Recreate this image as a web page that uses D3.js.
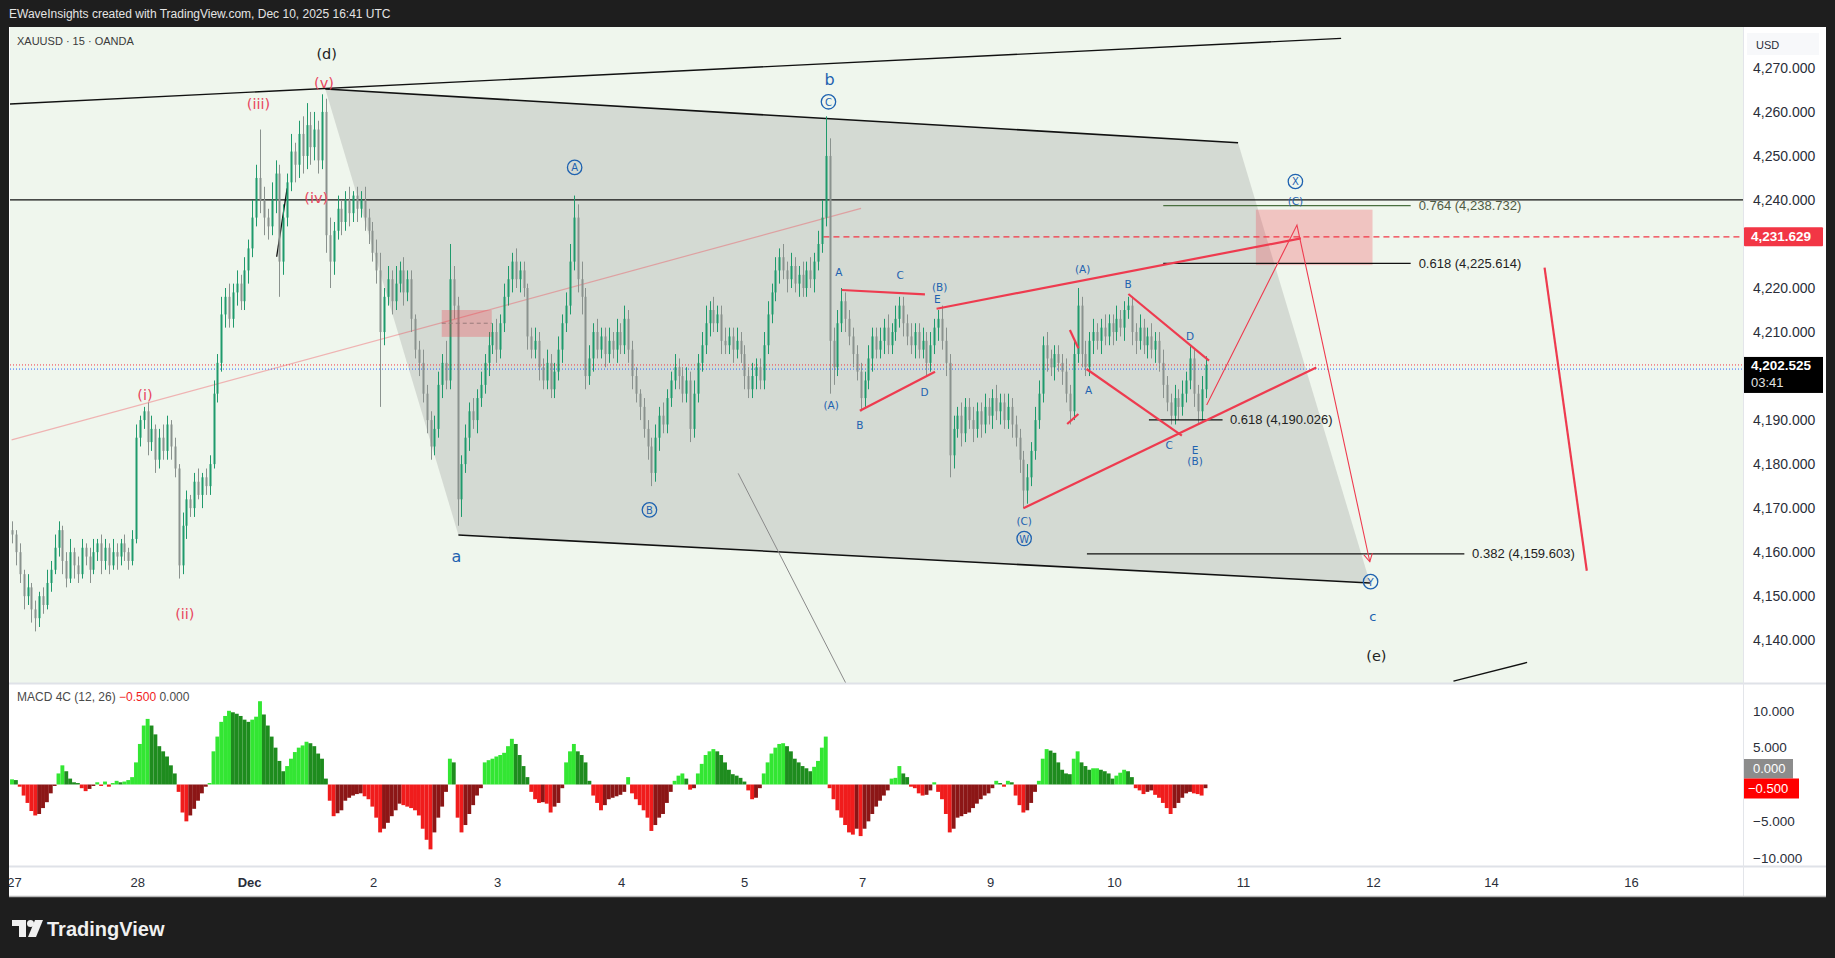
<!DOCTYPE html>
<html><head><meta charset="utf-8">
<script src="https://cdnjs.cloudflare.com/ajax/libs/d3/7.8.5/d3.min.js"></script>
<style>
html,body{margin:0;padding:0;background:#1e1e1e;overflow:hidden}
svg{display:block}
text{font-family:"Liberation Sans",Arial,sans-serif}
</style></head><body>
<svg id="c" width="1835" height="958"></svg>
<script>
// ---------------- DATA ----------------
const firstOpen = 4165;
const closes = [
4164,4160,4155,4150,4152,4147,4145,4150,4148,4153,
4156,4161,4165,4158,4154,4160,4157,4155,4161,4159,
4156,4160,4162,4158,4161,4157,4160,4159,4162,4160,
4158,4163,4186,4190,4192,4185,4188,4181,4186,4183,
4189,4184,4179,4157,4166,4172,4170,4176,4173,4177,
4175,4180,4196,4203,4214,4218,4213,4219,4221,4217,
4224,4229,4236,4245,4240,4236,4234,4240,4246,4226,
4236,4244,4251,4248,4255,4250,4257,4252,4256,4249,
4260,4232,4226,4233,4238,4235,4240,4237,4241,4238,
4240,4236,4233,4228,4224,4210,4218,4222,4217,4221,
4224,4219,4222,4213,4206,4203,4196,4190,4184,4188,
4198,4203,4199,4222,4216,4172,4180,4186,4192,4190,
4195,4198,4203,4207,4210,4206,4212,4218,4222,4226,
4222,4224,4220,4209,4206,4208,4202,4199,4203,4197,
4201,4206,4212,4216,4226,4236,4222,4218,4200,4204,
4210,4206,4209,4205,4208,4206,4210,4207,4213,4206,
4200,4196,4193,4188,4184,4178,4186,4191,4189,4195,
4199,4202,4200,4196,4199,4188,4196,4203,4207,4212,
4215,4212,4214,4208,4207,4209,4206,4208,4205,4200,
4197,4200,4202,4199,4207,4214,4219,4224,4227,4224,
4222,4225,4221,4223,4220,4224,4222,4226,4230,4236,
4250,4208,4202,4212,4217,4213,4209,4205,4201,4195,
4199,4204,4209,4206,4208,4211,4207,4210,4213,4216,
4212,4209,4207,4210,4206,4208,4203,4207,4211,4213,
4208,4203,4182,4188,4191,4187,4193,4190,4188,4192,
4189,4193,4191,4195,4192,4194,4190,4193,4189,4186,
4181,4174,4177,4183,4190,4196,4207,4204,4202,4205,
4203,4201,4196,4192,4205,4216,4205,4202,4208,4210,
4208,4211,4209,4212,4210,4213,4211,4215,4216,4210,
4208,4211,4207,4209,4206,4208,4203,4198,4194,4191,
4195,4193,4196,4199,4204,4196,4192,4197,4202.5];
const upWick = [
2,1,2,1,3,1,2,1,2,3, 2,3,2,1,2,3,1,2,2,1, 2,3,1,2,2,1,3,2,1,2, 1,2,3,1,1,2,3,1,2,3,
2,1,2,1,3,2,1,2,3,1, 2,2,3,2,4,2,3,2,3,2, 3,2,4,3,11,3,2,4,3,2, 3,2,4,2,3,4,5,3,4,2,
4,3,4,2,3,2,2,3,1,2, 2,3,2,2,3,4,2,3,2,4, 2,3,2,2,1,2,3,2,2,3, 3,2,5,8,3,2,2,3,2,3,
2,3,2,3,2,3,2,3,3,2, 3,2,2,1,2,3,2,2,3,2, 2,3,2,3,4,5,3,4,2,3, 2,3,2,2,3,2,3,2,3,2,
2,2,1,2,2,2,3,2,3,2, 2,3,2,2,3,2,3,2,3,4, 2,3,2,2,3,2,2,3,2,2, 2,3,2,2,3,3,2,3,2,3,
2,3,2,2,3,2,3,2,3,4, 9,4,3,3,3,2,2,2,2,2, 2,3,2,2,3,2,3,2,3,2, 2,2,3,2,2,3,2,3,2,2,
3,3,2,3,2,3,2,2,3,2, 2,3,2,2,3,2,2,3,2,2, 2,2,3,2,3,3,2,3,2,2, 2,2,3,2,3,4,2,3,2,3,
2,2,3,2,2,3,2,2,2,2, 2,3,2,2,3,2,2,3,2,2, 3,2,3,2,3,2,2,3,2];
const lowWick = [
2,3,2,3,2,3,3,2,2,1, 2,1,2,3,2,1,3,2,1,2, 3,1,2,3,2,2,1,3,2,2, 2,1,1,2,2,3,2,3,2,2,
2,3,2,3,2,3,2,2,1,3, 2,2,1,2,2,3,2,2,3,2, 2,3,2,2,3,4,3,2,3,8, 3,2,2,4,3,4,3,4,3,3,
2,4,6,3,2,3,2,3,2,3, 2,3,3,2,3,17,3,2,3,2, 2,3,2,3,2,3,2,3,3,2, 2,3,2,2,3,6,4,2,3,2,
3,2,2,3,2,3,2,2,2,3, 2,3,2,3,2,2,3,2,2,2, 2,2,3,2,2,2,3,4,3,2, 3,2,2,3,2,2,3,2,2,3,
3,2,3,2,3,3,2,3,2,2, 2,2,3,2,2,3,2,2,2,2, 3,2,2,3,2,2,3,2,2,3, 2,2,3,2,2,2,2,2,3,2,
3,2,2,3,2,2,2,3,2,2, 2,12,4,2,2,3,2,3,2,3, 2,2,3,2,2,3,2,2,2,2, 3,2,2,3,2,2,3,2,2,3,
2,3,5,3,2,3,2,2,3,2, 3,2,2,3,2,3,2,2,3,2, 3,4,3,2,2,2,2,3,2,3, 2,3,2,3,2,2,3,2,2,3,
2,3,2,2,3,2,2,3,2,3, 3,2,2,3,2,3,2,3,2,2, 2,3,2,2,2,3,3,2,2];
const macd = [
0.7,0.6,-0.3,-1.5,-2.5,-3.6,-4.2,-4.0,-3.2,-2.4,
-1.2,-0.2,1.5,2.6,1.8,0.8,0.3,0.2,-0.5,-0.9,
-0.6,-0.2,0.3,-0.2,0.4,-0.3,0.2,0.5,0.3,0.4,
0.6,1.0,3.0,5.5,8.0,8.9,8.0,6.8,5.2,4.5,
3.8,2.6,1.5,-1.0,-3.8,-5.0,-4.2,-3.3,-2.2,-1.2,
-0.3,0.2,4.5,6.5,8.5,9.3,10.0,9.8,9.6,9.3,
8.8,8.5,8.8,9.2,11.3,9.5,8.0,6.5,5.0,3.2,
1.8,2.5,3.5,4.4,5.0,5.3,5.8,5.6,5.2,4.2,
3.5,0.8,-2.2,-4.3,-3.9,-3.5,-2.2,-1.8,-1.5,-1.3,
-1.2,-1.6,-2.0,-3.0,-4.5,-6.5,-6.0,-5.2,-4.3,-3.5,
-2.6,-2.8,-3.0,-3.2,-3.5,-4.2,-6.0,-7.5,-8.8,-6.5,
-4.5,-3.0,-1.0,3.5,3.0,-4.5,-6.5,-5.5,-4.0,-2.8,
-1.5,-0.5,3.0,3.3,3.5,3.8,4.0,4.3,5.2,6.2,
5.5,4.0,2.5,1.0,-1.0,-2.0,-2.5,-2.4,-2.6,-3.8,
-3.0,-2.5,-0.5,3.0,4.5,5.5,4.5,4.0,3.0,0.5,
-1.5,-2.5,-3.5,-2.8,-2.0,-1.8,-1.6,-1.4,-1.0,1.0,
-1.2,-2.0,-2.8,-3.5,-4.5,-6.3,-5.5,-4.5,-4.0,-2.5,
-1.0,0.5,1.2,1.5,0.8,-0.7,-0.5,1.5,2.8,4.0,
4.5,4.8,4.5,4.0,3.0,2.0,1.4,1.2,0.9,0.4,
-0.8,-2.0,-1.8,-0.5,1.5,3.0,4.2,5.0,5.5,5.6,
5.2,4.5,3.5,3.0,2.5,2.2,1.8,2.4,3.2,5.0,
6.5,-0.5,-2.0,-3.5,-4.5,-5.5,-6.5,-6.8,-6.0,-7.0,
-6.0,-5.0,-4.0,-3.0,-2.2,-1.5,-0.8,0.8,0.9,2.5,
1.5,1.0,-0.3,-0.5,-1.2,-1.5,-1.4,-0.8,0.3,-1.0,
-2.0,-4.0,-6.5,-6.0,-4.5,-4.3,-4.0,-3.8,-3.2,-2.6,
-2.0,-1.5,-1.2,-0.5,0.5,0.2,-0.3,0.5,0.3,-1.5,
-2.8,-3.8,-3.5,-2.5,-1.0,0.5,3.5,4.8,4.6,4.3,
3.0,2.0,1.5,1.4,3.5,4.5,3.0,2.5,2.0,2.2,
2.2,2.0,1.8,1.5,0.8,1.2,1.6,2.0,1.8,1.0,
-0.5,-0.8,-1.3,-1.0,-0.8,-1.4,-1.8,-2.5,-3.2,-4.0,
-3.2,-2.5,-1.8,-1.2,-1.0,-1.2,-1.3,-1.5,-0.5];

const timeTickLabels = ["27","28","Dec","2","3","4","5","7","9","10","11","12","14","16"];
const timeTickIndex  = [0.5,32.3,61.2,93.2,125.2,157.2,188.9,219.4,252.4,284.4,317.7,351.2,381.7,417.8];
const priceTicks = [4270,4260,4250,4240,4220,4210,4190,4180,4170,4160,4150,4140];
const macdTicks = [10,5,-5,-10];
const lastPrice = 4202.525;
const prevClose = 4201.7;
const targetLevel = 4231.629;
const macdLast = -0.5, macdSignal = 0.0;

// drawings (bar index, price)
const upperTrend = [[-0.8,4261.8],[343,4276.7]];
const channelPoly = [[80.85,4265.2],[316.4,4253.0],[350.45,4153.0],[115.2,4163.9]];
const horizLevel = 4240;
const pinkTrend = [[-0.1,4185.5],[219.1,4238.1]];
const smallZone = [[110.9,4215.0],[123.8,4208.9]];
const smallZoneMid = 4212.0;
const targetZone = [[321.0,4237.8],[351.1,4225.2]];
const targetLineStart = 209.4;
const fibLevels = [
  {label:"0.764 (4,238.732)", value:4238.732, from:297.1, to:360.95, text:363.0, green:true},
  {label:"0.618 (4,225.614)", value:4225.614, from:297.1, to:360.95, text:363.0},
  {label:"0.618 (4,190.026)", value:4190.026, from:293.4, to:312.4, text:314.3},
  {label:"0.382 (4,159.603)", value:4159.603, from:277.4, to:374.8, text:376.8}
];
const redLines = [
  [[214.1,4219.55],[235.6,4218.57]],
  [[218.8,4192.13],[238.2,4200.99]],
  [[238.6,4215.3],[332.6,4231.29]],
  [[261.0,4169.95],[336.6,4201.96]],
  [[273.0,4210.46],[275.2,4206.3]],
  [[272.3,4189.11],[275.2,4191.38]],
  [[277.3,4201.6],[301.9,4186.45]],
  [[288.1,4218.64],[308.9,4203.49]],
  [[395.5,4224.63],[406.4,4155.78]]
];
const projection = [[308.3,4193.42],[331.6,4234.31],[350.4,4157.82]];
const blackShort = [[68.3,4227.1],[71.0,4242.65]];
const grayDiag = [[187.4,4177.9],[215.2,4130.2]];
const blackBottom = [[372.0,4130.7],[391.0,4134.95]];
const waveLabels = [
  ["(d)",81.2,4273.2,"black"],["(v)",80.5,4266.6,"red"],["(iii)",63.6,4261.8,"red"],
  ["(iv)",78.5,4240.4,"red"],["(i)",34.3,4195.6,"red"],["(ii)",44.6,4145.9,"red"],
  ["b",211.0,4267.3,"blue"],["a",114.7,4158.9,"blue"],["c",351.2,4145.3,"blueMid"],
  ["(e)",352.1,4136.5,"black"],
  ["A",213.4,4223.7,"small"],["C",229.2,4223.0,"small"],["(B)",239.4,4220.3,"small"],
  ["E",238.8,4217.4,"small"],["(A)",211.4,4193.4,"small"],["B",218.8,4188.9,"small"],
  ["D",235.5,4196.4,"small"],["(C)",261.2,4167.1,"small"],["(A)",276.3,4224.3,"small"],
  ["B",288.0,4220.8,"small"],["A",277.8,4196.9,"small"],["D",304.0,4209.1,"small"],
  ["C",298.6,4184.4,"small"],["E",305.3,4183.3,"small"],["(B)",305.3,4180.7,"small"],
  ["(C)",331.2,4239.7,"small"]
];
const circledLabels = [["C",210.7,4262.3],["A",145.2,4247.4],["B",164.5,4169.6],
  ["W",261.2,4163.1],["X",331.2,4244.2],["Y",350.6,4153.3]];

// ---------------- LAYOUT ----------------
const svg = d3.select("#c");
const pane = {x0:10, x1:1743, y0:27, y1:683};
const mp = {y0:684, y1:866};
const x = d3.scaleLinear().domain([0,400]).range([12, 12+3.875*400]);
const y = d3.scaleLinear().domain([4140,4270]).range([640.2,67.9]);
const ym = d3.scaleLinear().domain([-10,10]).range([858.2,710.8]);
const P = d => [x(d[0]), y(d[1])];
const line = d3.line().x(d=>x(d[0])).y(d=>y(d[1]));

svg.append("rect").attr("width",1835).attr("height",958).attr("fill","#1e1e1e");
svg.append("text").attr("x",9).attr("y",14).attr("dominant-baseline","central")
  .attr("font-size",12).attr("fill","#e4e4e4")
  .text("EWaveInsights created with TradingView.com, Dec 10, 2025 16:41 UTC");
svg.append("rect").attr("x",9).attr("y",27).attr("width",1817).attr("height",870).attr("fill","#ffffff");
svg.append("rect").attr("x",pane.x0).attr("y",pane.y0).attr("width",pane.x1-pane.x0).attr("height",pane.y1-pane.y0).attr("fill","#eff6ed");

const defs = svg.append("defs");
defs.append("clipPath").attr("id","mainClip").append("rect")
  .attr("x",pane.x0).attr("y",pane.y0).attr("width",pane.x1-pane.x0).attr("height",pane.y1-pane.y0);
defs.append("clipPath").attr("id","macdClip").append("rect")
  .attr("x",pane.x0).attr("y",mp.y0).attr("width",pane.x1-pane.x0).attr("height",mp.y1-mp.y0);
defs.append("clipPath").attr("id","timeClip").append("rect")
  .attr("x",9).attr("y",866).attr("width",1734).attr("height",31);

const g = svg.append("g").attr("clip-path","url(#mainClip)");

// channel polygon
g.append("path").attr("d", line(channelPoly)+"Z").attr("fill","rgba(120,120,120,0.22)");
g.append("path").attr("d", line([channelPoly[0],channelPoly[1]])).attr("stroke","#111").attr("stroke-width",1.6).attr("fill","none");
g.append("path").attr("d", line([channelPoly[3],channelPoly[2]])).attr("stroke","#111").attr("stroke-width",1.6).attr("fill","none");
// upper trendline
g.append("path").attr("d", line(upperTrend)).attr("stroke","#111").attr("stroke-width",1.4).attr("fill","none");
// horizontal level
g.append("line").attr("x1",pane.x0).attr("x2",pane.x1).attr("y1",y(horizLevel)).attr("y2",y(horizLevel)).attr("stroke","#111").attr("stroke-width",1.3);
// pink trend
g.append("path").attr("d", line(pinkTrend)).attr("stroke","rgba(242,54,69,0.35)").attr("stroke-width",1.2).attr("fill","none");
// gray diag
g.append("path").attr("d", line(grayDiag)).attr("stroke","#8a8a8a").attr("stroke-width",1).attr("fill","none");
g.append("path").attr("d", line(blackBottom)).attr("stroke","#111").attr("stroke-width",1.3).attr("fill","none");
g.append("path").attr("d", line(blackShort)).attr("stroke","#111").attr("stroke-width",1.3).attr("fill","none");

// price dotted lines
g.append("line").attr("x1",pane.x0).attr("x2",pane.x1).attr("y1",y(lastPrice)).attr("y2",y(lastPrice))
  .attr("stroke","#f23645").attr("stroke-width",1).attr("stroke-dasharray","1,2");
g.append("line").attr("x1",pane.x0).attr("x2",pane.x1).attr("y1",y(prevClose)+0.5).attr("y2",y(prevClose)+0.5)
  .attr("stroke","#2962ff").attr("stroke-width",1).attr("stroke-dasharray","1,2");
// target dashed
g.append("line").attr("x1",x(targetLineStart)).attr("x2",pane.x1).attr("y1",y(targetLevel)).attr("y2",y(targetLevel))
  .attr("stroke","#f23645").attr("stroke-width",1.2).attr("stroke-dasharray","6,4");

// candles
const cg = g.append("g");
closes.forEach((c,i)=>{
  const o = i===0 ? firstOpen : closes[i-1];
  const hi = Math.max(o,c)+upWick[i], lo = Math.min(o,c)-lowWick[i];
  const col = c>=o ? "#1f9a6c" : "#8a928e";
  const cx = Math.round(x(i))+0.5;
  cg.append("line").attr("x1",cx).attr("x2",cx).attr("y1",y(hi)).attr("y2",y(lo)).attr("stroke",col).attr("stroke-width",1);
  const top = y(Math.max(o,c)), h = Math.max(1, Math.abs(y(o)-y(c)));
  cg.append("rect").attr("x",cx-1).attr("y",top).attr("width",2).attr("height",h).attr("fill",col);
});

// small zone
g.append("rect").attr("x",x(smallZone[0][0])).attr("y",y(smallZone[0][1]))
  .attr("width",x(smallZone[1][0])-x(smallZone[0][0])).attr("height",y(smallZone[1][1])-y(smallZone[0][1]))
  .attr("fill","rgba(242,54,69,0.28)");
g.append("line").attr("x1",x(smallZone[0][0])).attr("x2",x(smallZone[1][0])).attr("y1",y(smallZoneMid)).attr("y2",y(smallZoneMid))
  .attr("stroke","#9a7a7a").attr("stroke-width",1).attr("stroke-dasharray","4,3");
// target zone
g.append("rect").attr("x",x(targetZone[0][0])).attr("y",y(targetZone[0][1]))
  .attr("width",x(targetZone[1][0])-x(targetZone[0][0])).attr("height",y(targetZone[1][1])-y(targetZone[0][1]))
  .attr("fill","rgba(242,54,69,0.26)");

// fib levels
fibLevels.forEach(f=>{
  g.append("line").attr("x1",x(f.from)).attr("x2",x(f.to)).attr("y1",y(f.value)).attr("y2",y(f.value))
    .attr("stroke", f.green ? "#4a7040" : "#111").attr("stroke-width",1.3);
  g.append("text").attr("x",x(f.text)).attr("y",y(f.value)).attr("dominant-baseline","central")
    .attr("font-size",13).attr("fill", f.green ? "#4f5b44" : "#222").text(f.label);
});

// red lines
redLines.forEach(l=>{
  g.append("path").attr("d",line(l)).attr("stroke","#ee3b4f").attr("stroke-width",2.2).attr("fill","none");
});
g.append("path").attr("d",line(projection)).attr("stroke","#ee3b4f").attr("stroke-width",1.1).attr("fill","none");
{
  const a = P(projection[1]), b = P(projection[2]);
  const dx=b[0]-a[0], dy=b[1]-a[1], L=Math.hypot(dx,dy), ux=dx/L, uy=dy/L;
  const ang = 0.5, len = 9;
  const rot = (t)=>[ux*Math.cos(t)-uy*Math.sin(t), ux*Math.sin(t)+uy*Math.cos(t)];
  const r1 = rot(ang), r2 = rot(-ang);
  g.append("path").attr("d",`M${b[0]-r1[0]*len},${b[1]-r1[1]*len}L${b[0]},${b[1]}L${b[0]-r2[0]*len},${b[1]-r2[1]*len}`)
    .attr("stroke","#ee3b4f").attr("stroke-width",1.1).attr("fill","none");
}

// wave labels
const styles = {
  black:{size:14.5,fill:"#222",fam:"DejaVu Sans"},
  red:{size:14.5,fill:"#e8475f",fam:"DejaVu Sans"},
  blue:{size:16,fill:"#1e62b0",fam:"DejaVu Sans"},
  blueMid:{size:13,fill:"#1e62b0",fam:"DejaVu Sans"},
  small:{size:10.5,fill:"#1e62b0",fam:"DejaVu Sans"}
};
waveLabels.forEach(w=>{
  const s = styles[w[3]];
  g.append("text").attr("x",x(w[1])).attr("y",y(w[2])).attr("text-anchor","middle").attr("dominant-baseline","central")
    .attr("font-size",s.size).attr("fill",s.fill).style("font-family",s.fam).text(w[0]);
});
circledLabels.forEach(c=>{
  g.append("circle").attr("cx",x(c[1])).attr("cy",y(c[2])).attr("r",7.2).attr("fill","none").attr("stroke","#1e62b0").attr("stroke-width",1.3);
  g.append("text").attr("x",x(c[1])).attr("y",y(c[2])+0.5).attr("text-anchor","middle").attr("dominant-baseline","central")
    .attr("font-size",10).attr("fill","#1e62b0").style("font-family","DejaVu Sans").text(c[0]);
});

// symbol text
svg.append("text").attr("x",17).attr("y",41).attr("dominant-baseline","central").attr("font-size",11).attr("fill","#3a3a3a")
  .text("XAUUSD · 15 · OANDA");

// ---------------- MACD ----------------
svg.append("rect").attr("x",pane.x0).attr("y",mp.y0).attr("width",pane.x1-pane.x0).attr("height",mp.y1-mp.y0).attr("fill","#ffffff");
const mg = svg.append("g").attr("clip-path","url(#macdClip)");
macd.forEach((v,i)=>{
  const prev = i===0 ? v : macd[i-1];
  let col;
  if (v>=0) col = v>=prev ? "#33e633" : "#1e8c1e";
  else col = v<=prev ? "#f01c1c" : "#8c1616";
  const y0 = ym(0), y1 = ym(v);
  mg.append("rect").attr("x",x(i)-1.95).attr("width",3.9).attr("y",Math.min(y0,y1)).attr("height",Math.max(0.5,Math.abs(y1-y0))).attr("fill",col);
});
const leg = svg.append("text").attr("x",17).attr("y",697).attr("dominant-baseline","central").attr("font-size",12).attr("fill","#4a4a4a");
leg.append("tspan").text("MACD 4C (12, 26)  ");
leg.append("tspan").attr("fill","#f01c1c").text("−0.500");
leg.append("tspan").text("  0.000");

// ---------------- AXES ----------------
svg.append("line").attr("x1",9).attr("x2",1826).attr("y1",683.5).attr("y2",683.5).attr("stroke","#dfe2e8").attr("stroke-width",2);
svg.append("line").attr("x1",9).attr("x2",1826).attr("y1",866.5).attr("y2",866.5).attr("stroke","#dfe2e8").attr("stroke-width",2);
svg.append("line").attr("x1",1743.5).attr("x2",1743.5).attr("y1",27).attr("y2",897).attr("stroke","#e3e5ea").attr("stroke-width",1);
svg.append("line").attr("x1",9).attr("x2",1826).attr("y1",896.5).attr("y2",896.5).attr("stroke","#b8b8b8").attr("stroke-width",1.5);

const fmtP = d3.format(",.3f");
const pa = svg.append("g").attr("transform","translate(1753,0)")
  .call(d3.axisRight(y).tickValues(priceTicks).tickSize(0).tickPadding(0).tickFormat(fmtP));
pa.select(".domain").remove();
pa.selectAll("text").attr("font-size",14).attr("fill","#2a2e39").style("font-family","Liberation Sans");

const ma = svg.append("g").attr("transform","translate(1753,0)")
  .call(d3.axisRight(ym).tickValues(macdTicks).tickSize(0).tickPadding(0)
    .tickFormat(d=>(d<0?"−":"")+d3.format(".3f")(Math.abs(d))));
ma.select(".domain").remove();
ma.selectAll("text").attr("font-size",13.5).attr("fill","#2a2e39").style("font-family","Liberation Sans");

const ta = svg.append("g").attr("clip-path","url(#timeClip)").append("g").attr("transform","translate(0,877.5)")
  .call(d3.axisBottom(x).tickValues(timeTickIndex).tickSize(0).tickPadding(0).tickFormat((d,i)=>timeTickLabels[i]));
ta.select(".domain").remove();
ta.selectAll("text").attr("font-size",13).attr("fill","#2a2e39").style("font-family","Liberation Sans")
  .attr("font-weight",(d,i)=>timeTickLabels[i]==="Dec"?"bold":"normal");

// USD label
svg.append("rect").attr("x",1747).attr("y",33).attr("width",72).attr("height",22).attr("fill","#f7f8fa");
svg.append("text").attr("x",1756).attr("y",44.5).attr("dominant-baseline","central").attr("font-size",11).attr("fill","#2a2e39").text("USD");

// badges
svg.append("rect").attr("x",1744).attr("y",y(targetLevel)-9.5).attr("width",79).attr("height",19).attr("rx",1).attr("fill","#f23645");
svg.append("text").attr("x",1751).attr("y",y(targetLevel)).attr("dominant-baseline","central").attr("font-size",13.5).attr("font-weight","bold").attr("fill","#fff").text(fmtP(targetLevel));
svg.append("rect").attr("x",1744).attr("y",y(lastPrice)-8).attr("width",79).attr("height",36).attr("fill","#000");
svg.append("text").attr("x",1751).attr("y",y(lastPrice)+1).attr("dominant-baseline","central").attr("font-size",13.5).attr("font-weight","bold").attr("fill","#fff").text(fmtP(lastPrice));
svg.append("text").attr("x",1751).attr("y",y(lastPrice)+18).attr("dominant-baseline","central").attr("font-size",13).attr("fill","#e0e0e0").text("03:41");

svg.append("rect").attr("x",1744).attr("y",759).attr("width",49).attr("height",19.5).attr("fill","#8c8c8c");
svg.append("text").attr("x",1753).attr("y",768.8).attr("dominant-baseline","central").attr("font-size",13).attr("fill","#fff").text(d3.format(".3f")(macdSignal));
svg.append("rect").attr("x",1744).attr("y",778.5).attr("width",55).attr("height",20).attr("fill","#ff0000");
svg.append("text").attr("x",1748).attr("y",788.5).attr("dominant-baseline","central").attr("font-size",13).attr("fill","#fff").text("−"+d3.format(".3f")(Math.abs(macdLast)));

// ---------------- FOOTER LOGO ----------------
const lg = svg.append("g").attr("fill","#f0f0f0");
lg.append("path").attr("d","M12,920 H26 V937 H19 V926 H12 Z");
lg.append("circle").attr("cx",30.5).attr("cy",923.5).attr("r",3.5);
lg.append("path").attr("d","M35,920 H43 L36,937 H28 Z");
svg.append("text").attr("x",47).attr("y",929).attr("dominant-baseline","central").attr("font-size",20).attr("font-weight","bold").attr("fill","#f0f0f0").text("TradingView");
</script>
</body></html>
